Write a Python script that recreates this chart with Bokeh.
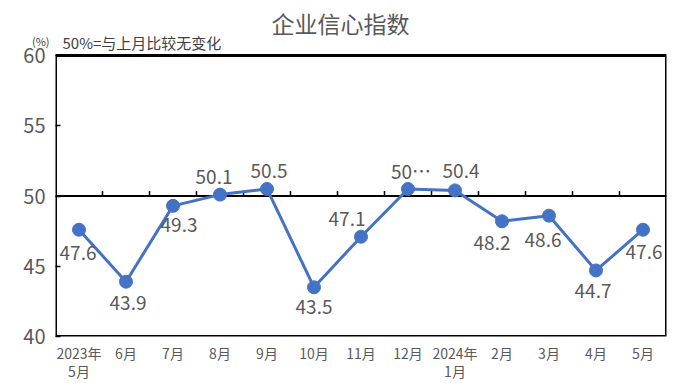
from bokeh.plotting import figure
from bokeh.models import Range1d, FixedTicker, Label, LinearAxis
from bokeh.core.properties import value
from bokeh.embed import file_html
from bokeh.resources import INLINE

categories = ["2023年\n5月", "6月", "7月", "8月", "9月", "10月", "11月", "12月",
              "2024年\n1月", "2月", "3月", "4月", "5月"]
index_values = [47.6, 43.9, 49.3, 50.1, 50.5, 43.5, 47.1, 50.5, 50.4, 48.2, 48.6, 44.7, 47.6]
point_labels = ["47.6", "43.9", "49.3", "50.1", "50.5", "43.5", "47.1", "50…",
                "50.4", "48.2", "48.6", "44.7", "47.6"]
y_ticks = [40, 45, 50, 55, 60]
y_lo, y_hi = 40, 60

# label placement (screen px, y down)
lab_dx = [-1, 2, 6, -6, 2, 0, -14, 3, 6, -10, -6, -3, 1]
lab_dy = [23, 21, 19, -18, -18, 20, -18, -18, -19, 22, 24, 21, 22]

FONT = "Noto Sans CJK SC"
GRAY = "#595959"
DARK = "#404040"
BLUE = "#4472C4"

W, H = 669, 388
L, R, B = 55, 3, 52
TOP_GAP = 55                      # space above the chart box, inside the frame
fw = W - L - R
fh = H - B                        # frame reaches the top of the canvas
box_h = fh - TOP_GAP
y_top = y_lo + (y_hi - y_lo) * fh / box_h

n = len(categories)
xs = list(range(1, n + 1))
x_lo, x_hi = 0.5, n + 0.5

p = figure(width=W, height=H, output_backend="svg", toolbar_location=None,
           x_range=Range1d(x_lo, x_hi), y_range=Range1d(y_lo, y_top),
           min_border_left=L, min_border_right=R, min_border_top=0, min_border_bottom=B)
p.frame_width = fw
p.frame_height = fh
p.grid.visible = False
p.background_fill_color = "white"
p.border_fill_color = "white"
p.outline_line_color = None

# chart box
p.quad(left=[x_lo], right=[x_hi], bottom=[y_lo], top=[y_hi],
       fill_color=None, line_color="black", line_width=3)

# titles (screen units, relative to the frame's bottom-left corner)
def sx(px):
    return px - L
def sy(py):
    return fh - py

p.add_layout(Label(x=sx(340), y=sy(22), x_units="screen", y_units="screen", text="企业信心指数",
                   text_align="center", text_baseline="middle",
                   text_font=FONT, text_font_size="23px", text_color=GRAY))
p.add_layout(Label(x=sx(62), y=sy(42), x_units="screen", y_units="screen", text="50%=与上月比较无变化",
                   text_align="left", text_baseline="middle",
                   text_font=FONT, text_font_size="15px", text_color=DARK))

# x axis
p.xaxis.ticker = FixedTicker(ticks=xs)
p.xaxis.major_label_overrides = {x: c for x, c in zip(xs, categories)}
p.xaxis.axis_line_color = None
p.xaxis.major_tick_line_color = None
p.xaxis.minor_tick_line_color = None
p.xaxis.major_label_standoff = 0
p.xaxis.major_label_text_font = FONT
p.xaxis.major_label_text_font_size = "14px"
p.xaxis.major_label_text_line_height = 0.9
p.xaxis.major_label_text_color = GRAY

# y axis
p.yaxis.ticker = FixedTicker(ticks=y_ticks)
p.yaxis.axis_line_color = None
p.yaxis.major_tick_in = 5
p.yaxis.major_tick_out = 0
p.yaxis.major_tick_line_width = 1.5
p.yaxis.major_tick_line_color = "black"
p.yaxis.minor_tick_line_color = None
p.yaxis.major_label_standoff = 10
p.yaxis.major_label_text_font = FONT
p.yaxis.major_label_text_font_size = "20px"
p.yaxis.major_label_text_color = GRAY

# unit mark "(%)" as a second, label-only axis
pct_at = 61
ax2 = LinearAxis(ticker=FixedTicker(ticks=[pct_at]), major_label_overrides={pct_at: "(%)"},
                 axis_line_color=None, major_tick_line_color=None, minor_tick_line_color=None,
                 major_label_standoff=-35, major_label_text_font=FONT,
                 major_label_text_font_size="11px", major_label_text_color=DARK)
p.add_layout(ax2, "left")

# 50 reference line with small upward ticks at category boundaries
tick_h = 5 * (y_hi - y_lo) / box_h
bx = [i + 0.5 for i in range(1, n)]
p.segment(x0=[x_lo], y0=[50], x1=[x_hi], y1=[50], line_color="black", line_width=2)
p.segment(x0=bx, y0=[50] * len(bx), x1=bx, y1=[50 + tick_h] * len(bx),
          line_color="black", line_width=1.5)

# series
p.line(xs, index_values, line_color=BLUE, line_width=3)
p.scatter(xs, index_values, size=13, fill_color=BLUE, line_color=BLUE)
p.text(x=xs, y=index_values, text=point_labels, x_offset=lab_dx, y_offset=lab_dy,
       text_align="center", text_baseline="middle", text_font=value(FONT),
       text_font_size="19px", text_color=GRAY)

open("out.html", "w").write(file_html(p, INLINE))
